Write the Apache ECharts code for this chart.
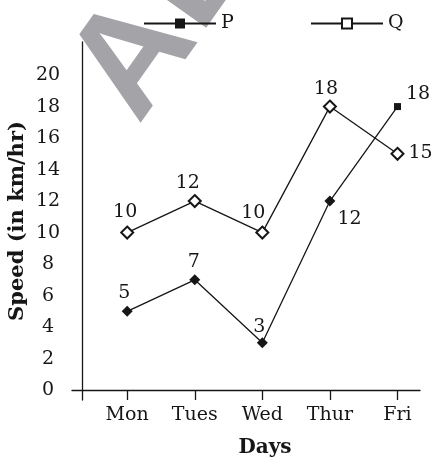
<!DOCTYPE html>
<html><head><meta charset="utf-8">
<script src="https://cdn.jsdelivr.net/npm/echarts@6/dist/echarts.min.js"></script>
<style>html,body{margin:0;padding:0;background:#fff}#c{width:431px;height:457px}</style>
</head><body><div id="c"></div>
<script>
// ---- data ----
const days = ['Mon', 'Tues', 'Wed', 'Thur', 'Fri'];
const pValues = [5, 7, 3, 12, 18];
const qValues = [10, 12, 10, 18, 15];
const yTickValues = [0, 2, 4, 6, 8, 10, 12, 14, 16, 18, 20];

// ---- layout / style ----
const FONT = 'DejaVu Serif';
const INK = '#161616';
const DAY_OFFSET = 2 / 3;               // first day sits 2/3 of a day-step right of the y axis
const xOf = i => i + DAY_OFFSET;
const xTickValues = days.map((d, i) => xOf(i));

const pLabelCfg = [
  { position: 'top', distance: 3, offset: [-3, 0] },
  { position: 'top', distance: 3, offset: [-1, 0] },
  { position: 'top', distance: 1, offset: [-3, 0] },
  { position: 'right', distance: 2, offset: [0, 18] },
  { position: 'right', distance: 5, offset: [0, -13] }
];
const qLabelCfg = [
  { position: 'top', distance: 4, offset: [-2, 0] },
  { position: 'top', distance: 2, offset: [-7, 0] },
  { position: 'top', distance: 3, offset: [-9, 0] },
  { position: 'top', distance: 1, offset: [-4, 0] },
  { position: 'right', distance: 4, offset: [0, -1] }
];

const labelBase = { show: true, fontFamily: FONT, fontSize: 19, color: INK, formatter: p => p.value[1] };

const chart = echarts.init(document.getElementById('c'), null, { renderer: 'canvas' });

const legendBase = {
  orient: 'horizontal', top: 14, padding: 0, itemWidth: 72, itemHeight: 12.5, itemGap: 0,
  selectedMode: false,
  textStyle: { fontFamily: FONT, fontSize: 19, color: INK }
};

const wmStyle = { fontFamily: 'Liberation Sans', fontWeight: 'bold', fontSize: 147,
                  fill: '#a3a3a8', align: 'center', verticalAlign: 'middle' };

chart.setOption({
  animation: false,
  backgroundColor: '#fff',
  grid: { left: 72, right: 11, top: 42, bottom: 57, containLabel: false, outerBoundsMode: 'none' },
  legend: [
    Object.assign({}, legendBase, { data: ['P'], left: 143 }),
    Object.assign({}, legendBase, { data: ['Q'], left: 310 })
  ],
  graphic: [
    { type: 'text', x: 136, y: 59, rotation: 0.955, z: -10, silent: true,
      style: Object.assign({ text: 'A' }, wmStyle) },
    { type: 'text', x: 198, y: -31, rotation: 0.955, z: -10, silent: true,
      style: Object.assign({ text: 'D' }, wmStyle) }
  ],
  xAxis: [
    {
      type: 'value', min: -0.15, max: 5.0, position: 'bottom',
      name: 'Days', nameLocation: 'middle', nameGap: 38, nameMoveOverlap: false,
      nameTextStyle: { fontFamily: FONT, fontWeight: 'bold', fontSize: 20, color: INK, padding: [0, 0, 0, 38] },
      axisLine: { show: true, onZero: true, lineStyle: { color: INK, width: 1.3 } },
      axisTick: { show: true, customValues: xTickValues, length: 5, lineStyle: { color: INK, width: 1.3 } },
      axisLabel: { show: true, customValues: xTickValues, margin: 6,
        fontFamily: FONT, fontSize: 19, color: INK,
        formatter: v => days[Math.round(v - DAY_OFFSET)] },
      splitLine: { show: false }
    },
    {
      type: 'value', min: -0.15, max: 5.0, position: 'bottom',
      axisLine: { show: false, onZero: true },
      axisTick: { show: true, inside: true, customValues: xTickValues, length: 5, lineStyle: { color: INK, width: 1.3 } },
      axisLabel: { show: false },
      splitLine: { show: false }
    }
  ],
  yAxis: {
    type: 'value', min: -0.63, max: 22.1,
    name: 'Speed (in km/hr)', nameLocation: 'middle', nameGap: 44, nameMoveOverlap: false,
    nameTextStyle: { fontFamily: FONT, fontWeight: 'bold', fontSize: 21, color: INK },
    axisLine: { show: true, onZero: true, onZeroAxisIndex: 0, lineStyle: { color: INK, width: 1.3 } },
    axisTick: { show: false },
    axisLabel: { show: true, customValues: yTickValues, margin: 24, align: 'center',
      fontFamily: FONT, fontSize: 19, color: INK },
    splitLine: { show: false }
  },
  series: [
    {
      name: 'P', type: 'line', xAxisIndex: 0, symbol: 'rect', symbolSize: 7,
      lineStyle: { color: INK, width: 1.3 },
      itemStyle: { color: INK },
      label: labelBase,
      data: pValues.map((v, i) => ({
        value: [xOf(i), v],
        symbol: i < pValues.length - 1 ? 'diamond' : 'rect',
        symbolSize: i < pValues.length - 1 ? 11 : 7,
        label: pLabelCfg[i]
      }))
    },
    {
      name: 'Q', type: 'line', xAxisIndex: 0, symbol: 'rect', symbolSize: 12,
      lineStyle: { color: INK, width: 1.3 },
      itemStyle: { color: '#fff', borderColor: INK, borderWidth: 2 },
      label: labelBase,
      data: qValues.map((v, i) => ({
        value: [xOf(i), v],
        symbol: 'diamond',
        label: qLabelCfg[i]
      }))
    }
  ]
});
</script></body></html>
